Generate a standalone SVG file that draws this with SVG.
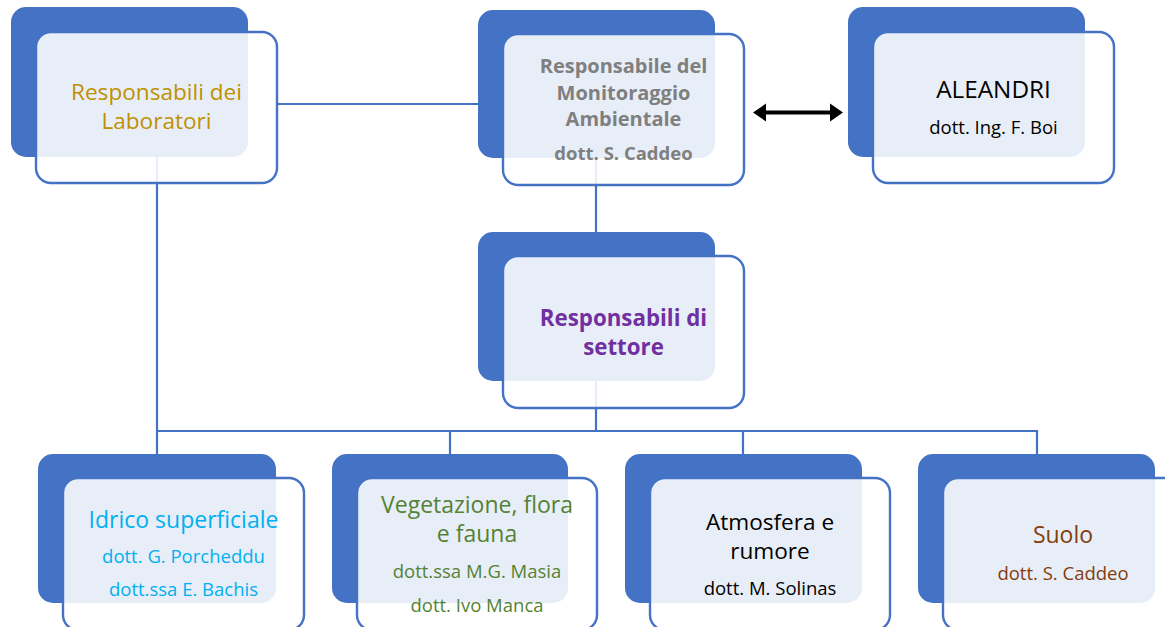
<svg xmlns="http://www.w3.org/2000/svg" width="1165" height="627" viewBox="0 0 1165 627">
<style>
.back{fill:#4472C4}
.front{fill:#FFFFFF;fill-opacity:0.88;stroke:#4472C4;stroke-width:2.4}
.conn{fill:none;stroke:#4472C4;stroke-width:2.2}
text{font-family:"Open Sans","Liberation Sans",sans-serif;text-anchor:middle}
.m{font-size:23px}
.m2{font-size:22.6px}
.s{font-size:18.5px}
.b{font-weight:bold}
</style>
<rect width="1165" height="627" fill="#FFFFFF"/>
<g id="connectors">
<line class="conn" x1="277" y1="104" x2="503" y2="104"/>
<polyline class="conn" points="157,157 157,454"/>
<line class="conn" x1="596" y1="158" x2="596" y2="232"/>
<line class="conn" x1="596" y1="381" x2="596" y2="431"/>
<line class="conn" x1="156" y1="431" x2="1037" y2="431"/>
<line class="conn" x1="450" y1="431" x2="450" y2="454"/>
<line class="conn" x1="743" y1="431" x2="743" y2="454"/>
<line class="conn" x1="1037" y1="430" x2="1037" y2="454"/>
<polygon fill="#000000" points="753,112.5 766,103.5 766,110.5 830,110.5 830,103.5 843,112.5 830,121.5 830,114.5 766,114.5 766,121.5"/>
</g>
<g id="node-laboratori">
<rect class="back" x="11" y="7" width="237" height="150" rx="15"/>
<rect class="front" x="36" y="32" width="241" height="151" rx="15"/>
<text class="m2" fill="#BF9000"><tspan x="156.5" y="99.5">Responsabili dei</tspan><tspan x="156.5" y="128.5">Laboratori</tspan></text>
</g>
<g id="node-monitoraggio">
<rect class="back" x="478" y="10" width="237" height="148" rx="15"/>
<rect class="front" x="503" y="34" width="241" height="151" rx="15"/>
<text class="b" fill="#7F7F7F" font-size="20"><tspan x="623.5" y="73">Responsabile del</tspan><tspan x="623.5" y="100">Monitoraggio</tspan><tspan x="623.5" y="126">Ambientale</tspan></text>
<text class="s b" fill="#7F7F7F" x="623.5" y="160">dott. S. Caddeo</text>
</g>
<g id="node-aleandri">
<rect class="back" x="848" y="7" width="237" height="150" rx="15"/>
<rect class="front" x="873" y="32" width="241" height="151" rx="15"/>
<text fill="#000000" font-size="24.3" x="993.5" y="98">ALEANDRI</text>
<text class="s" fill="#000000" x="993.5" y="134">dott. Ing. F. Boi</text>
</g>
<g id="node-settore">
<rect class="back" x="478" y="232" width="237" height="149" rx="15"/>
<rect class="front" x="503" y="256" width="241" height="152" rx="15"/>
<text class="b" fill="#7030A0" font-size="22.3"><tspan x="623.5" y="326">Responsabili di</tspan><tspan x="623.5" y="355">settore</tspan></text>
</g>
<g id="node-idrico">
<rect class="back" x="38" y="454" width="238" height="149" rx="15"/>
<rect class="front" x="63" y="478" width="241" height="152" rx="15"/>
<text class="m" fill="#00B0F0" x="183.5" y="528">Idrico superficiale</text>
<text class="s" fill="#00B0F0"><tspan x="183.5" y="563">dott. G. Porcheddu</tspan><tspan x="183.5" y="596">dott.ssa E. Bachis</tspan></text>
</g>
<g id="node-vegetazione">
<rect class="back" x="332" y="454" width="236" height="149" rx="15"/>
<rect class="front" x="357" y="478" width="240" height="152" rx="15"/>
<text class="m" fill="#548235"><tspan x="477" y="513">Vegetazione, flora</tspan><tspan x="477" y="542">e fauna</tspan></text>
<text class="s" fill="#548235"><tspan x="477" y="578">dott.ssa M.G. Masia</tspan><tspan x="477" y="612">dott. Ivo Manca</tspan></text>
</g>
<g id="node-atmosfera">
<rect class="back" x="625" y="454" width="237" height="149" rx="15"/>
<rect class="front" x="650" y="478" width="240" height="152" rx="15"/>
<text class="m2" fill="#000000"><tspan x="770" y="529.5">Atmosfera e</tspan><tspan x="770" y="558.5">rumore</tspan></text>
<text class="s" fill="#000000" x="770" y="595">dott. M. Solinas</text>
</g>
<g id="node-suolo">
<rect class="back" x="918" y="454" width="237" height="149" rx="15"/>
<rect class="front" x="943" y="478" width="241" height="152" rx="15"/>
<text class="m" fill="#843C0C" x="1063" y="543">Suolo</text>
<text class="s" fill="#843C0C" x="1063" y="580">dott. S. Caddeo</text>
</g>
</svg>
